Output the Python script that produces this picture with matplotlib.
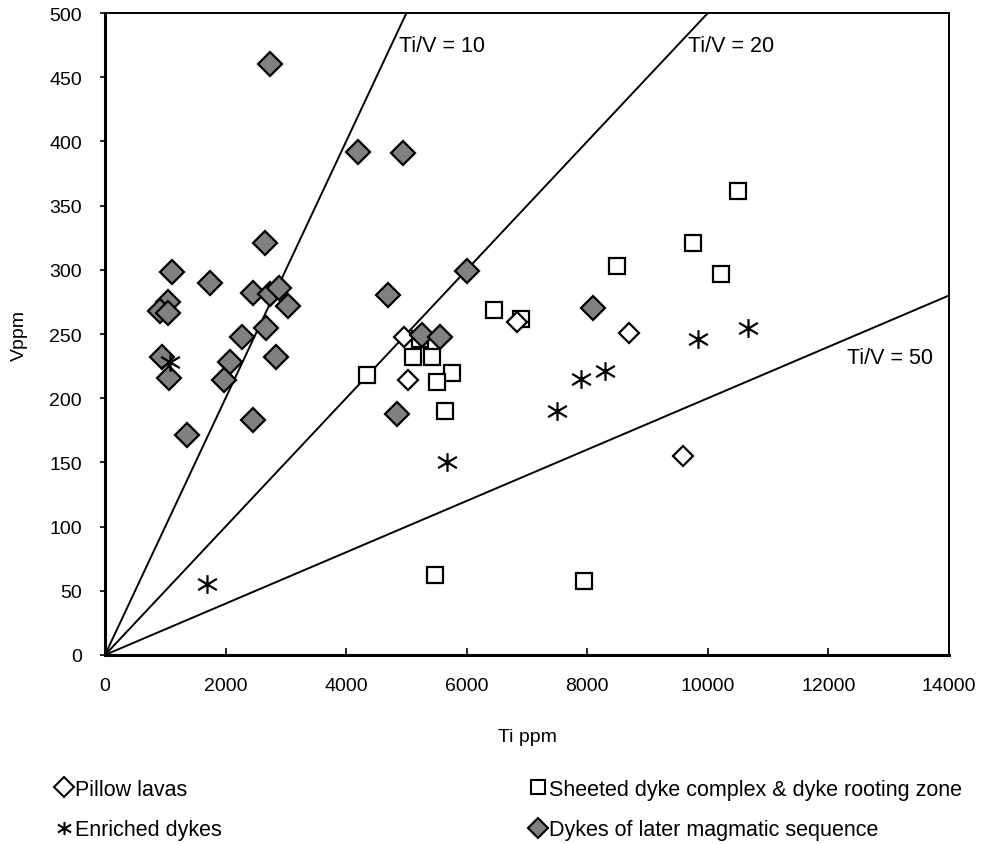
import matplotlib
matplotlib.use('Agg')
import matplotlib.pyplot as plt
from matplotlib.path import Path
from matplotlib.lines import Line2D
import numpy as np

plt.rcParams['font.family'] = ['Liberation Sans', 'DejaVu Sans']

# data (Ti ppm, V ppm)
pillow_ti = [4960, 5026, 6834, 8691, 9587]
pillow_v = [248, 214, 259, 251, 155]

sheeted_ti = [4346, 6452, 6900, 5225, 5108, 5424, 5756, 5507, 5639, 8492, 9760, 10499, 10217, 5473, 7945]
sheeted_v = [218, 269, 262, 246, 232, 232, 220, 213, 190, 303, 321, 361, 297, 62, 58]

enriched_ti = [1078, 1692, 7497, 7895, 8293, 5673, 9836, 10665]
enriched_v = [228, 55, 190, 215, 221, 150, 246, 255]

later_ti = [2737, 4196, 4950, 2654, 1111, 1742, 2455, 2737, 2886, 3035, 4694, 1045, 912,
            1045, 2670, 2272, 945, 1061, 2073, 1974, 2836, 2455, 1360, 4843, 6004, 5258,
            5556, 8094]
later_v = [460, 392, 391, 321, 298, 290, 282, 281, 286, 272, 280, 275, 268,
           266, 255, 248, 232, 216, 228, 214, 232, 183, 171, 188, 299, 249,
           248, 270]

ratios = [10, 20, 50]
ratio_labels = ['Ti/V = 10', 'Ti/V = 20', 'Ti/V = 50']
label_pos = [(4880, 475), (9670, 475), (12300, 232)]

# excel style asterisk: vertical bar plus a flat X
star = Path([(0, -1), (0, 1), (-1, -0.6), (1, 0.6), (-1, 0.6), (1, -0.6)],
            [Path.MOVETO, Path.LINETO, Path.MOVETO, Path.LINETO, Path.MOVETO, Path.LINETO])

fig = plt.figure(figsize=(9.83, 8.45), dpi=100)
ax = fig.add_axes([0.1068, 0.2237, 0.8586, 0.7597])

tx = np.array([0, 14000])
for r in ratios:
    ax.plot(tx, tx / r, color='black', lw=1.4, zorder=2)
for lab, (x, y) in zip(ratio_labels, label_pos):
    ax.text(x, y, lab, fontsize=15.5, va='center', ha='left')

ax.plot(sheeted_ti, sheeted_v, ls='none', marker='s', ms=11.5, mfc='white', mec='black', mew=1.6, zorder=3)
ax.plot(pillow_ti, pillow_v, ls='none', marker='D', ms=10, mfc='white', mec='black', mew=1.6, zorder=4)
ax.plot(later_ti, later_v, ls='none', marker='D', ms=12.5, mfc='#808080', mec='black', mew=1.6, zorder=4)
ax.plot(enriched_ti, enriched_v, ls='none', marker=star, ms=13.5, mfc='none', mec='black', mew=1.6, zorder=5)

ax.set_xlim(0, 14000)
ax.set_ylim(0, 500)
ax.set_xticks(np.arange(0, 14001, 2000))
ax.set_yticks(np.arange(0, 501, 50))
ax.tick_params(axis='x', direction='in', length=5, width=1.2, labelsize=14, pad=16)
ax.tick_params(axis='y', direction='out', length=3.6, width=1.2, labelsize=14, pad=13)
for s in ax.spines.values():
    s.set_linewidth(1.4)
ax.spines['left'].set_linewidth(2.2)
ax.spines['bottom'].set_linewidth(2.2)

ax.set_xlabel('Ti ppm', fontsize=14, labelpad=24)
ax.set_ylabel('Vppm', fontsize=14, labelpad=15)

h_pillow = Line2D([], [], ls='none', marker='D', ms=10, mfc='white', mec='black', mew=1.5)
h_enr = Line2D([], [], ls='none', marker=star, ms=9.5, mfc='none', mec='black', mew=1.5)
h_sheet = Line2D([], [], ls='none', marker='s', ms=10, mfc='white', mec='black', mew=1.5)
h_later = Line2D([], [], ls='none', marker='D', ms=10, mfc='#808080', mec='black', mew=1.5)

kw = dict(frameon=False, fontsize=15.5, handlelength=0.6, handletextpad=0.2,
          labelspacing=0.9, borderpad=0, borderaxespad=0, loc='upper left')
fig.legend([h_pillow, h_enr], ['Pillow lavas', 'Enriched dykes'],
           bbox_to_anchor=(0.059, 0.077), **kw)
fig.legend([h_sheet, h_later], ['Sheeted dyke complex & dyke rooting zone',
                                'Dykes of later magmatic sequence'],
           bbox_to_anchor=(0.541, 0.077), **kw)

fig.savefig('out.png', dpi=100)
